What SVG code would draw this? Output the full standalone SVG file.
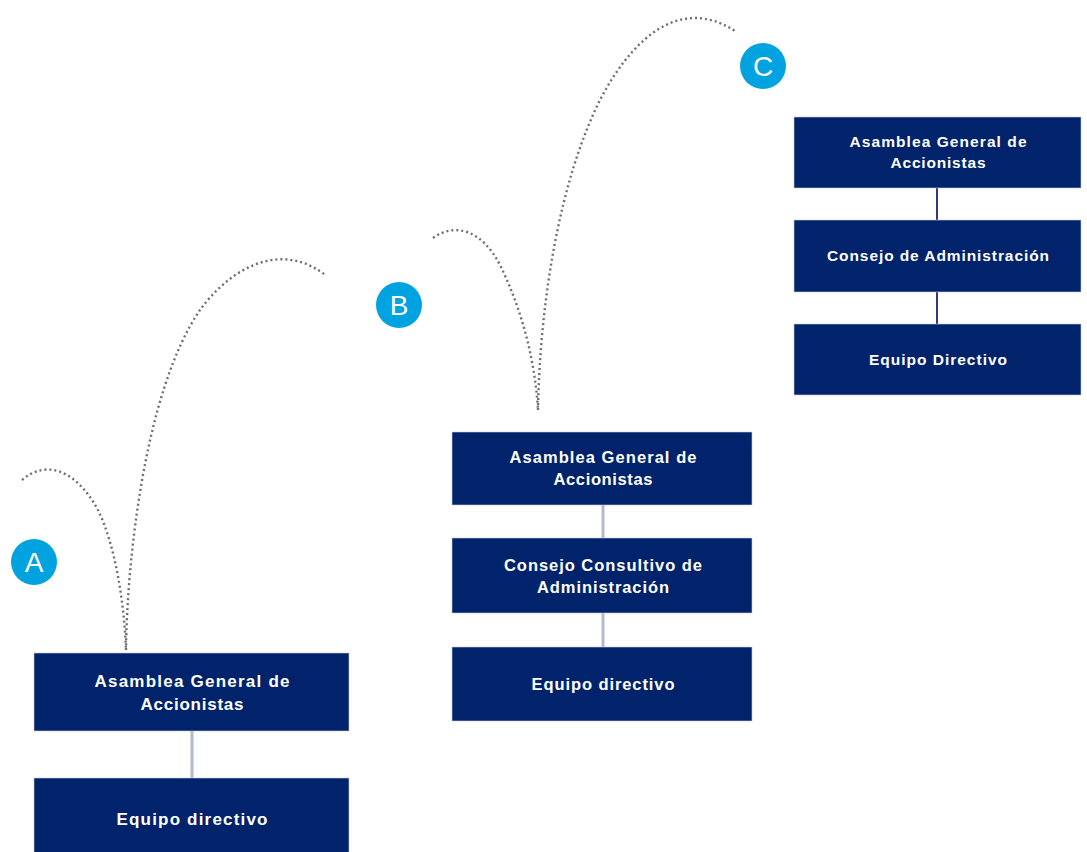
<svg xmlns="http://www.w3.org/2000/svg" width="1087" height="852" viewBox="0 0 1087 852">
<style>
.box{fill:#00236b;stroke:#c9cdd9;stroke-width:0.6}
.t{fill:#ffffff;font-family:"Liberation Sans",Arial,sans-serif;font-weight:bold;text-anchor:middle}
.a{font-size:17px}.b{font-size:16.5px}.c{font-size:15.5px}
.dot{fill:none;stroke:#6e6e6e;stroke-width:2.4;stroke-dasharray:2 3}
.lk{stroke:#b3b9cf;stroke-width:3;fill:none}
.lkc{stroke:#2e3d7a;stroke-width:2;fill:none}
.circ{fill:#00a3e0}
.ct{fill:#ffffff;font-family:"Liberation Sans",Arial,sans-serif;font-size:28px;text-anchor:middle}
</style>
<rect width="1087" height="852" fill="#ffffff"/>
<g id="connectors">
<path class="dot" d="M 22 480 C 45 460, 75 468, 98 510 C 115 545, 124 600, 126 650"/>
<path class="dot" d="M 126 650 C 127 560, 145 390, 200 310 C 225 275, 275 238, 324 274"/>
<path class="dot" d="M 433 238 C 455 222, 482 230, 500 265 C 522 310, 535 360, 538 410"/>
<path class="dot" d="M 538 410 C 540 300, 560 180, 600 100 C 630 42, 678 -6, 735 31"/>
<line class="lk" x1="192" y1="731" x2="192" y2="778"/>
<line class="lk" x1="603" y1="505" x2="603" y2="538"/>
<line class="lk" x1="603" y1="613" x2="603" y2="647"/>
<line class="lkc" x1="937" y1="188" x2="937" y2="220"/>
<line class="lkc" x1="937" y1="292" x2="937" y2="324"/>
</g>
<g id="label-A"><circle class="circ" cx="34" cy="562" r="23"/><text class="ct" x="34" y="572">A</text></g>
<g id="label-B"><circle class="circ" cx="399" cy="305" r="23"/><text class="ct" x="399" y="315">B</text></g>
<g id="label-C"><circle class="circ" cx="763" cy="66" r="23"/><text class="ct" x="763" y="76">C</text></g>
<g id="A-asamblea"><rect class="box" x="34" y="653" width="315" height="78"/>
<text class="t a" x="192" y="687" textLength="195" lengthAdjust="spacing">Asamblea General de</text>
<text class="t a" x="192" y="710" textLength="103" lengthAdjust="spacing">Accionistas</text></g>
<g id="A-equipo"><rect class="box" x="34" y="778" width="315" height="84"/>
<text class="t a" x="192" y="825" textLength="151" lengthAdjust="spacing">Equipo directivo</text></g>
<g id="B-asamblea"><rect class="box" x="452" y="432" width="300" height="73"/>
<text class="t b" x="603" y="463" textLength="187" lengthAdjust="spacing">Asamblea General de</text>
<text class="t b" x="603" y="485" textLength="99" lengthAdjust="spacing">Accionistas</text></g>
<g id="B-consejo"><rect class="box" x="452" y="538" width="300" height="75"/>
<text class="t b" x="603" y="571" textLength="198" lengthAdjust="spacing">Consejo Consultivo de</text>
<text class="t b" x="603" y="593" textLength="132" lengthAdjust="spacing">Administración</text></g>
<g id="B-equipo"><rect class="box" x="452" y="647" width="300" height="74"/>
<text class="t b" x="603" y="690" textLength="143" lengthAdjust="spacing">Equipo directivo</text></g>
<g id="C-asamblea"><rect class="box" x="794" y="117" width="287" height="71"/>
<text class="t c" x="938" y="147" textLength="177" lengthAdjust="spacing">Asamblea General de</text>
<text class="t c" x="938" y="168" textLength="95" lengthAdjust="spacing">Accionistas</text></g>
<g id="C-consejo"><rect class="box" x="794" y="220" width="287" height="72"/>
<text class="t c" x="938" y="261" textLength="222" lengthAdjust="spacing">Consejo de Administración</text></g>
<g id="C-equipo"><rect class="box" x="794" y="324" width="287" height="71"/>
<text class="t c" x="938" y="365" textLength="138" lengthAdjust="spacing">Equipo Directivo</text></g>
</svg>
